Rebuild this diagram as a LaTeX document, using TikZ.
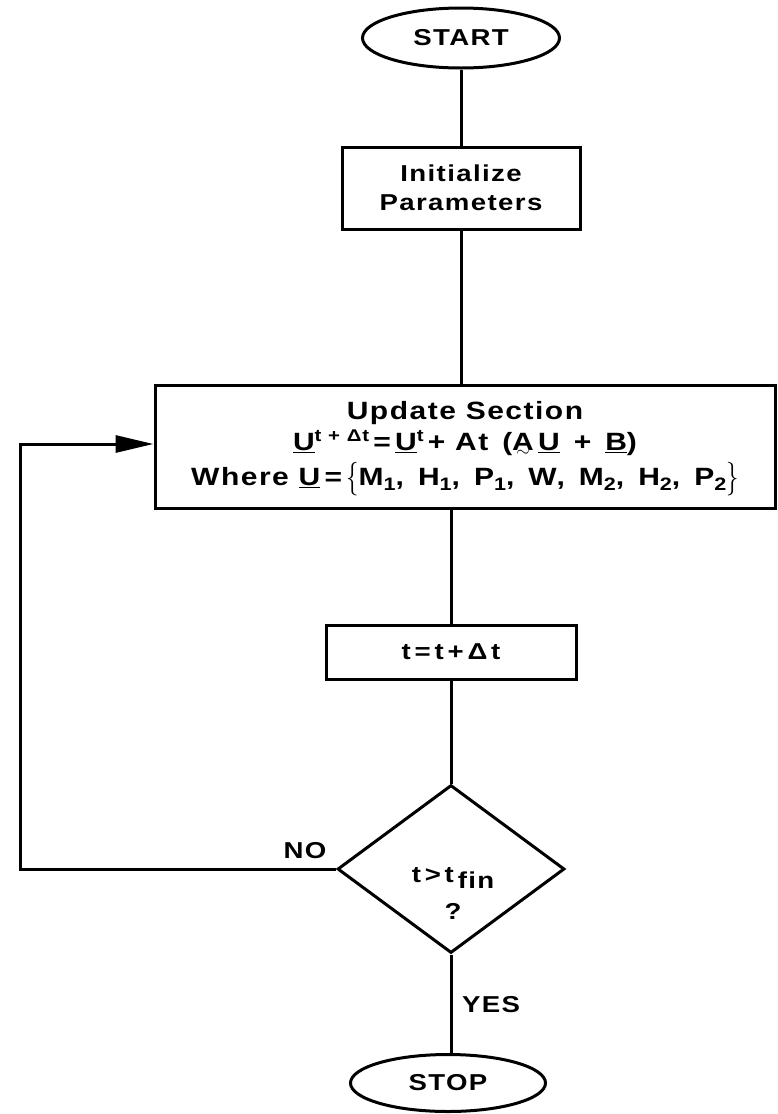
\documentclass[tikz,border=0pt]{standalone}
\usepackage{fontspec}
\setmainfont{Liberation Sans}[FakeStretch=1.2,LetterSpace=6]
\usetikzlibrary{shapes.geometric,arrows.meta}
\newcommand\tildeu[1]{\oalign{#1\crcr\hidewidth\raisebox{-6pt}[0pt][0pt]{$\scriptstyle\sim$}\hidewidth}}
\newcommand\mysub[1]{\raisebox{-5pt}{\fontsize{18}{18}\selectfont #1}}
\newcommand\mysup[1]{\raisebox{9pt}{\fontsize{17}{17}\selectfont #1}}
\newcommand\bigbr[1]{\raisebox{-2pt}{\scalebox{1}[1.35]{$\Biggl#1$}}}
\newcommand\bigbrr[1]{\raisebox{-2pt}{\scalebox{1}[1.35]{$\Biggr#1$}}}
\begin{document}
\begin{tikzpicture}[x=1pt,y=-1pt,
  every node/.style={font=\fontsize{23}{27}\selectfont\bfseries},
  ln/.style={line width=3pt},
  term/.style={ellipse, draw, line width=3pt, inner sep=0pt},
  box/.style={rectangle, draw, line width=3pt, inner sep=0pt, align=center},
  dia/.style={diamond, draw, line width=3pt, inner sep=0pt},
  lbl/.style={inner sep=0pt, align=center}]
\useasboundingbox (0,0) rectangle (777,1114);
\node[term, minimum width=197pt, minimum height=60pt] (start) at (461,38) {START};
\node[box, minimum width=238pt, minimum height=82pt] (init) at (461,188) {Initialize\\[2pt]Parameters};
\node[box, minimum width=620pt, minimum height=123pt] (upd) at (465,446.5) {};
\node[lbl, font=\fontsize{25}{29}\selectfont\bfseries] (updtxt) at (465,449)
  {Update Section\\[2pt]
   \underline{U}\mysup{t + Δt}\,=\,\underline{U}\mysup{t}\,+ At \,(\tildeu{A}\,\underline{U} \,+ \,\underline{B})\\[6pt]
   Where \underline{U}\,=\,\bigbr\{M\mysub{1}, \,H\mysub{1}, \,P\mysub{1}, \,W, \,M\mysub{2}, \,H\mysub{2}, \,P\mysub{2}\bigbrr\}};
\node[box, minimum width=250pt, minimum height=54pt] (tbox) at (451,652) {t\,=\,t\,+\,Δ\,t};
\node[dia, minimum width=227pt, minimum height=168pt] (dec) at (451,869) {};
\node[lbl] (dectxt) at (453,893) {t\,>\,t\,\raisebox{-6pt}{fin}\\[10pt]?};
\node[term, minimum width=195pt, minimum height=57pt] (stop) at (448,1083) {STOP};
\node[lbl] (no) at (305,851) {NO};
\node[lbl] (yes) at (491,1005) {YES};
\coordinate (lb) at (20,869);
\coordinate (lt) at (20,444);
\draw[ln] (start.south) -- (start.south |- init.north);
\draw[ln] (init.south) -- (init.south |- upd.north);
\draw[ln] (tbox.north |- upd.south) -- (tbox.north);
\draw[ln] (tbox.south) -- (dec.north);
\draw[ln] (dec.south) -- (dec.south |- stop.north);
\draw[ln,-{Triangle[length=38pt,width=17pt]}] (dec.west) -- (lb) -- (lt) -- (lt -| upd.west);
\end{tikzpicture}
\end{document}
